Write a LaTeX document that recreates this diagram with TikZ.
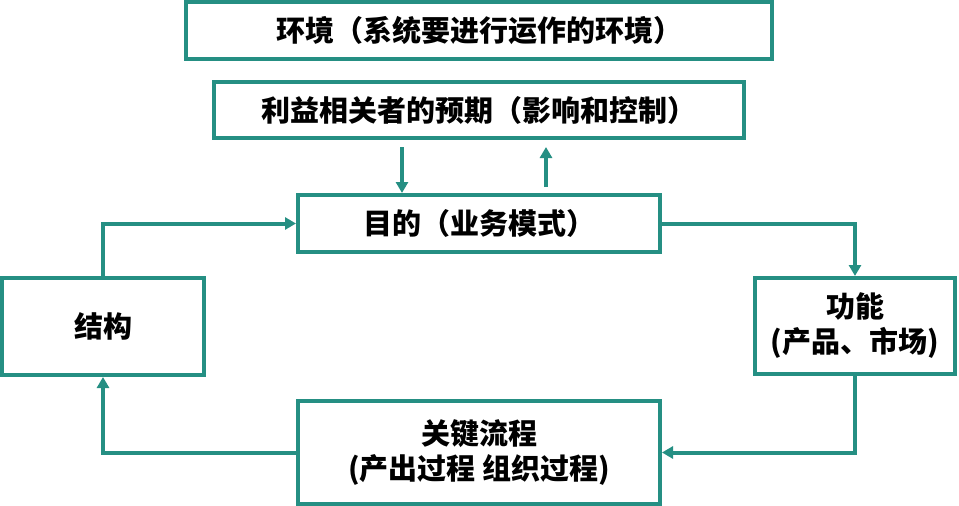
\documentclass[tikz,border=0pt]{standalone}
\usepackage{fontspec}
\newfontfamily\cjk{Noto Sans CJK SC}
\usetikzlibrary{arrows.meta}
\definecolor{teal1}{RGB}{37,143,131}
\tikzset{
  box/.style={draw=teal1, line width=4pt, fill=white, inner sep=0pt, align=center,
    font=\cjk\bfseries\fontsize{29}{35}\selectfont, text=black},
  conn/.style={draw=teal1, line width=4pt, -{Triangle[length=11pt,width=12pt]}}
}
\begin{document}
\begin{tikzpicture}[x=1pt,y=-1pt]
\useasboundingbox (0,0) rectangle (959,506);
\node[box, minimum width=586pt, minimum height=57pt] (env) at (479,30.5) {环境（系统要进行运作的环境）};
\node[box, minimum width=530pt, minimum height=56pt] (stake) at (479,110) {利益相关者的预期（影响和控制）};
\node[box, minimum width=362pt, minimum height=57pt] (goal) at (479,223.5) {目的（业务模式）};
\node[box, minimum width=202pt, minimum height=97pt] (struct) at (103,326.5) {结构};
\node[box, minimum width=200pt, minimum height=96pt] (func) at (855,326) {功能\\(产品、市场)};
\node[box, minimum width=362pt, minimum height=103pt] (proc) at (479,452.5) {关键流程\\(产出过程 组织过程)};
\coordinate (dtop) at (402,147);
\coordinate (ubot) at (546,187);
\coordinate (utop) at (546,147);
\draw[conn] (dtop) -- (dtop |- goal.north);
\draw[conn] (ubot) -- (utop);
\draw[conn] (struct.north) |- (goal.west);
\draw[conn] (goal.east) -| (func.north);
\draw[conn] (func.south) |- (proc.east);
\draw[conn] (proc.west) -| (struct.south);
\end{tikzpicture}
\end{document}
